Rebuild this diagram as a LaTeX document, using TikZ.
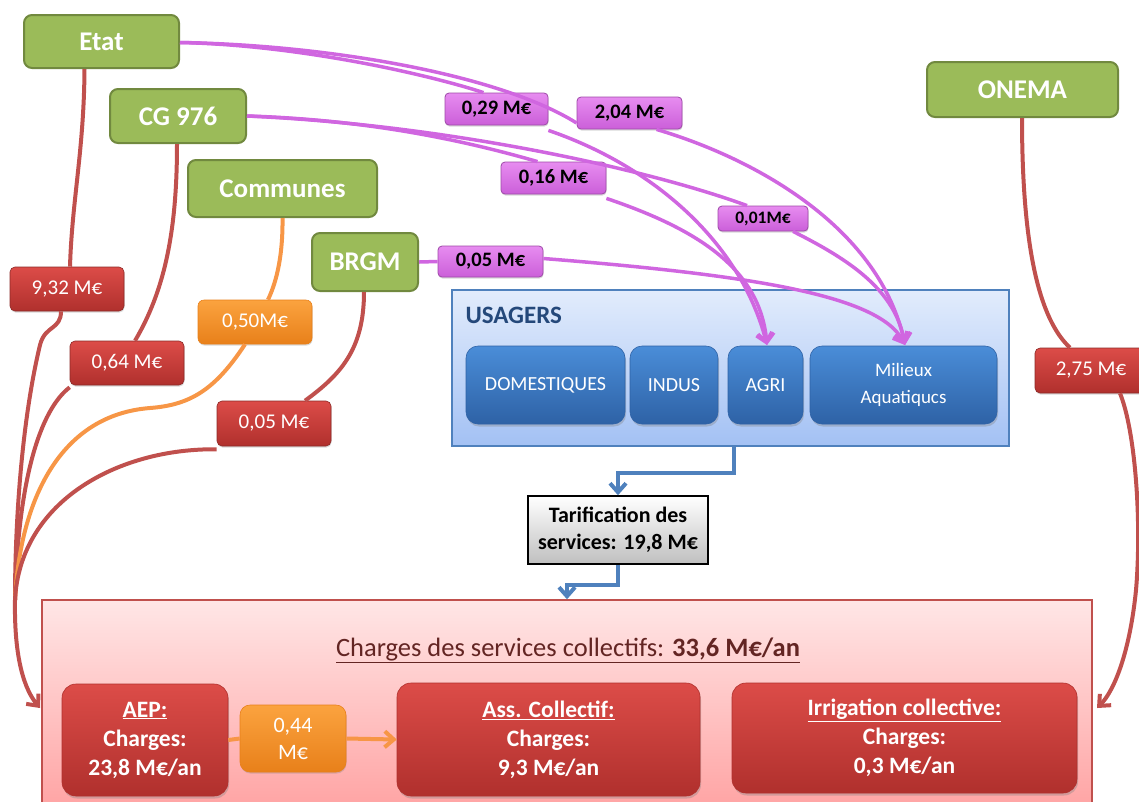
\documentclass[tikz,border=0pt]{standalone}
\usepackage{fontspec}
\setmainfont{Carlito}
\usetikzlibrary{arrows.meta,shadows}
\definecolor{gfill}{HTML}{9BBB59}
\definecolor{gborder}{HTML}{71893F}
\definecolor{ptop}{HTML}{E78CF0}
\definecolor{pbot}{HTML}{CB5FD9}
\definecolor{pborder}{HTML}{9E4AA8}
\definecolor{pline}{HTML}{D066E0}
\definecolor{rtop}{HTML}{DC4C48}
\definecolor{rbot}{HTML}{B0302D}
\definecolor{rborder}{HTML}{8C2A27}
\definecolor{rline}{HTML}{C0504D}
\definecolor{otop}{HTML}{FBA33F}
\definecolor{obot}{HTML}{E8801A}
\definecolor{oline}{HTML}{F79646}
\definecolor{btop}{HTML}{4A8DD8}
\definecolor{bbot}{HTML}{2E62A6}
\definecolor{bline}{HTML}{4F81BD}
\definecolor{ubtop}{HTML}{E2ECFC}
\definecolor{ubbot}{HTML}{A3C1F4}
\definecolor{pinktop}{HTML}{FFE6E6}
\definecolor{pinkbot}{HTML}{FFA0A0}
\definecolor{titlecol}{HTML}{632523}
\definecolor{usacol}{HTML}{24487A}
\tikzset{
  greenbox/.style={draw=gborder, fill=gfill, line width=2pt, rounded corners=8pt,
    text=white, font=\fontsize{27}{32}\selectfont\bfseries, inner sep=0pt},
  purplelab/.style={draw=pborder, line width=0.8pt, top color=ptop, bottom color=pbot,
    rounded corners=4pt, font=\fontsize{20.5}{24}\selectfont\bfseries, text=black, inner sep=0pt,
    drop shadow={shadow xshift=0.5pt, shadow yshift=-1.5pt, opacity=0.3}},
  redlab/.style={draw=rborder, line width=0.6pt, top color=rtop, bottom color=rbot,
    rounded corners=5pt, font=\fontsize{21}{25}\selectfont, text=white, inner sep=0pt,
    drop shadow={shadow xshift=0.5pt, shadow yshift=-1.5pt, opacity=0.3}},
  orangelab/.style={draw=obot, line width=0.6pt, top color=otop, bottom color=obot,
    rounded corners=6pt, font=\fontsize{21}{25}\selectfont, text=white, inner sep=0pt, align=center,
    drop shadow={shadow xshift=0.5pt, shadow yshift=-1.5pt, opacity=0.3}},
  bluebox/.style={draw=bbot, line width=0.6pt, top color=btop, bottom color=bbot,
    rounded corners=12pt, font=\fontsize{20}{24}\selectfont, text=white, inner sep=0pt, align=center,
    minimum height=78pt, drop shadow={shadow xshift=1pt, shadow yshift=-2.5pt, opacity=0.35}},
  usagersbox/.style={draw=bline, line width=2pt, top color=ubtop, bottom color=ubbot, inner sep=0pt},
  tarifbox/.style={draw=black, line width=1.5pt, top color=white, bottom color=black!25,
    font=\fontsize{22}{27}\selectfont\bfseries, align=center, inner sep=0pt},
  pinkbox/.style={draw=rline, line width=1.5pt, top color=pinktop, bottom color=pinkbot, inner sep=0pt},
  chargebox/.style={draw=rbot, line width=0.6pt, top color=rtop, bottom color=rbot,
    rounded corners=14pt, font=\fontsize{23.5}{29}\selectfont\bfseries, text=white, align=center, inner sep=0pt,
    drop shadow={shadow xshift=1pt, shadow yshift=-2.5pt, opacity=0.35}},
  redflow/.style={draw=rline, line width=4pt},
  orangeflow/.style={draw=oline, line width=4pt},
  purpleflow/.style={draw=pline, line width=3.5pt},
  blueflow/.style={draw=bline, line width=4pt},
  barb/.style={-{Straight Barb[length=9pt,width=16pt]}},
}
\begin{document}
\begin{tikzpicture}[x=1pt,y=-1pt]
\useasboundingbox (0,0) rectangle (1139,801);
% big pink box
\node[pinkbox, minimum width=1050pt, minimum height=220pt] (big) at (567,710) {};
\node[font=\fontsize{26.5}{30}\selectfont, text=titlecol] (title) at (568,650)
  {\underline{Charges des services collectifs: \textbf{33,6 M€/an}}};
\node[chargebox, minimum width=166pt, minimum height=112pt] (aep) at (145,740)
  {\underline{AEP:}\\Charges:\\23,8 M€/an};
\node[chargebox, minimum width=303pt, minimum height=113pt] (ass) at (548.5,739.5)
  {\underline{Ass. Collectif:}\\Charges:\\9,3 M€/an};
\node[chargebox, minimum width=345pt, minimum height=110pt] (irr) at (904.5,738)
  {\underline{Irrigation collective:}\\Charges:\\0,3 M€/an};
\node[orangelab, minimum width=106pt, minimum height=67pt, rounded corners=10pt,
  font=\fontsize{22}{27}\selectfont] (o044) at (293,738.5) {0,44\\M€};
% usagers
\node[usagersbox, minimum width=557pt, minimum height=156pt] (usagers) at (730.5,368) {};
\node[anchor=west, font=\fontsize{25}{28}\selectfont\bfseries, text=usacol] (usatitle) at (462,315) {USAGERS};
\node[bluebox, minimum width=159pt] (dom) at (545.5,385) {DOMESTIQUES};
\node[bluebox, minimum width=88pt] (indus) at (674,385) {INDUS};
\node[bluebox, minimum width=75pt] (agri) at (765.5,385) {AGRI};
\node[bluebox, minimum width=187pt, font=\fontsize{19}{27}\selectfont] (mil) at (903.5,385) {Milieux\\Aquatiqucs};
\node[tarifbox, minimum width=180pt, minimum height=68pt] (tarif) at (618,530) {Tarification des\\services: 19,8 M€};
% green boxes
\node[greenbox, minimum width=155pt, minimum height=53pt] (etat) at (101.5,41.5) {Etat};
\node[greenbox, minimum width=136pt, minimum height=54pt] (cg) at (178,116) {CG 976};
\node[greenbox, minimum width=189pt, minimum height=57pt] (communes) at (282.5,188.5) {Communes};
\node[greenbox, minimum width=106pt, minimum height=58pt] (brgm) at (365,262) {BRGM};
\node[greenbox, minimum width=191pt, minimum height=55pt] (onema) at (1022.5,89.5) {ONEMA};
% purple labels
\node[purplelab, minimum width=103pt, minimum height=32pt] (p029) at (496.5,109) {0,29 M€};
\node[purplelab, minimum width=105pt, minimum height=32pt] (p204) at (629.5,113) {2,04 M€};
\node[purplelab, minimum width=105pt, minimum height=32pt] (p016) at (553.5,178) {0,16 M€};
\node[purplelab, minimum width=90pt, minimum height=25pt, font=\fontsize{17.5}{20}\selectfont\bfseries] (p001) at (763,218.5) {0,01M€};
\node[purplelab, minimum width=105pt, minimum height=31pt] (p005) at (490.5,261.5) {0,05 M€};
% red labels
\node[redlab, minimum width=114pt, minimum height=44pt] (r932) at (67,289) {9,32 M€};
\node[redlab, minimum width=114pt, minimum height=44pt] (r064) at (127,363) {0,64 M€};
\node[orangelab, minimum width=114pt, minimum height=44pt] (o050) at (255,322) {0,50M€};
\node[redlab, minimum width=114pt, minimum height=45pt] (r005) at (274,423.5) {0,05 M€};
\node[redlab, minimum width=112pt, minimum height=45pt] (r275) at (1091,370.5) {2,75 M€};
% coordinates
\coordinate (join) at (15,600);
\coordinate (lefttip) at (40,708);
\coordinate (righttip) at (1097,708);
\coordinate (agritip) at (767,345);
\coordinate (miltip) at (905,345);
% red / orange flows on the left
\draw[redflow] ([xshift=-17pt]etat.south) .. controls (84,150) and (72,200) .. ([xshift=3pt]r932.north);
\draw[redflow] ([xshift=-6pt]r932.south) .. controls (61,330) and (45,325) .. (40,345)
  .. controls (22,420) and (15,520) .. (join);
\draw[redflow] ([xshift=-1pt]cg.south) .. controls (177,230) and (165,290) .. ([xshift=8pt]r064.north);
\draw[redflow] ([yshift=-2pt]r064.south west) .. controls (40,410) and (18,480) .. (join);
\draw[orangeflow] (communes.south) .. controls (283,260) and (275,285) .. ([xshift=13pt]o050.north);
\draw[orangeflow] ([xshift=-10pt]o050.south) .. controls (215,390) and (190,405) .. (150,408)
  .. controls (60,415) and (20,500) .. (join);
\draw[redflow] ([xshift=-1pt]brgm.south) .. controls (364,350) and (340,375) .. ([xshift=31pt]r005.north);
\draw[redflow] ([yshift=-3pt]r005.south west) .. controls (120,448) and (20,500) .. (join);
\draw[redflow, barb] (join) .. controls (14,660) and (25,690) .. (lefttip);
% right flow
\draw[redflow] ([xshift=-0.5pt]onema.south) .. controls (1022,250) and (1040,320) .. ([xshift=-21pt]r275.north);
\draw[redflow, barb] ([xshift=29pt]r275.south) .. controls (1135,430) and (1142,520) .. (1136,590)
  .. controls (1130,650) and (1115,690) .. (righttip);
% purple flows
\draw[purpleflow] ([yshift=-1pt]etat.east) .. controls (300,45) and (430,75) .. ([xshift=-13pt]p029.north);
\draw[purpleflow] ([yshift=-1pt]etat.east) .. controls (330,45) and (500,75) .. ([yshift=-10pt]p204.west);
\draw[purpleflow, barb] ([yshift=-5pt]p029.south east) .. controls (650,165) and (740,240) .. (agritip);
\draw[purpleflow, barb] ([xshift=27pt]p204.south) .. controls (760,160) and (880,230) .. (miltip);
\draw[purpleflow] (cg.east) .. controls (380,120) and (480,145) .. ([xshift=-16pt]p016.north);
\draw[purpleflow] (cg.east) .. controls (450,125) and (650,170) .. ([xshift=-16pt]p001.north);
\draw[purpleflow, barb] ([yshift=-4pt]p016.south east) .. controls (700,230) and (760,270) .. (agritip);
\draw[purpleflow, barb] ([xshift=30pt]p001.south) .. controls (850,260) and (895,290) .. (miltip);
\draw[purpleflow] (brgm.east) -- (p005.west);
\draw[purpleflow, barb] ([yshift=3pt]p005.east) .. controls (750,275) and (880,295) .. (miltip);
% blue flows
\draw[blueflow, barb] ([xshift=3pt]usagers.south) -- ++(0,26) -| (tarif.north);
\draw[blueflow, barb] (tarif.south) -- ++(0,20) -| (big.north);
% orange transfer
\draw[orangeflow] (aep.east) -- (o044.west);
\draw[orangeflow, barb] (o044.east) -- (ass.west);
\end{tikzpicture}
\end{document}
